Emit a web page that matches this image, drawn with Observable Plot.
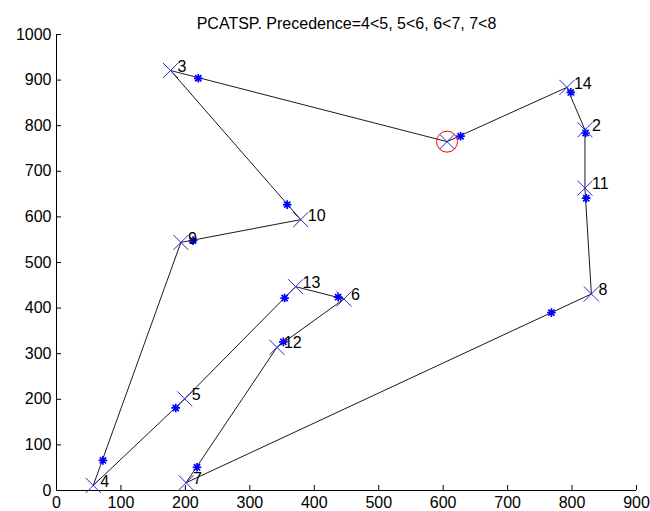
<!DOCTYPE html>
<html><head><meta charset="utf-8">
<script src="https://cdn.jsdelivr.net/npm/d3@7"></script>
<script src="https://cdn.jsdelivr.net/npm/@observablehq/plot@0.6"></script>
<style>html,body{margin:0;padding:0;background:#fff}</style>
</head><body><div id="chart"></div>
<script>
const title = "PCATSP. Precedence=4<5, 5<6, 6<7, 7<8";
// city 1 is the depot (red circle, no label)
const cityIds = [1, 2, 3, 4, 5, 6, 7, 8, 9, 10, 11, 12, 13, 14];
const cityX   = [606, 820, 177, 57, 199, 446, 201, 830, 193, 379, 820, 342, 371, 792];
const cityY   = [765, 791, 921, 11, 201, 420, 17, 431, 544, 594, 663, 314, 447, 884];
const tourOrder = [1, 3, 10, 9, 4, 5, 13, 6, 12, 7, 8, 11, 2, 14, 1];
// star points, one on each tour leg, near the leg's end city
const starX = [220, 358, 212, 72, 185, 354, 437, 352, 218, 768, 822, 821, 798, 627];
const starY = [904, 627, 548, 66, 181, 422, 424, 326, 51, 390, 641, 784, 873, 777];
const xTicks = [0, 100, 200, 300, 400, 500, 600, 700, 800, 900];
const yTicks = [0, 100, 200, 300, 400, 500, 600, 700, 800, 900, 1000];

const cities = cityIds.map((id, i) => ({id, x: cityX[i], y: cityY[i]}));
const byId = new Map(cities.map(c => [c.id, c]));
const tour = tourOrder.map(id => byId.get(id));
const stars = starX.map((x, i) => ({x, y: starY[i]}));
const depot = cities.filter(c => c.id === 1);
const labeled = cities.filter(c => c.id !== 1);

const timesSym = {draw(ctx, size) {
  const r = Math.sqrt(size / Math.PI);
  ctx.moveTo(-r, -r); ctx.lineTo(r, r);
  ctx.moveTo(-r, r); ctx.lineTo(r, -r);
}};
const starSym = {draw(ctx, size) {
  const r = Math.sqrt(size / Math.PI);
  const d = r * 0.72;
  ctx.moveTo(-r, 0); ctx.lineTo(r, 0);
  ctx.moveTo(0, -r); ctx.lineTo(0, r);
  ctx.moveTo(-d, -d); ctx.lineTo(d, d);
  ctx.moveTo(-d, d); ctx.lineTo(d, -d);
}};

const chart = Plot.plot({
  width: 650, height: 511,
  marginLeft: 56, marginRight: 14, marginTop: 34, marginBottom: 21,
  x: {domain: [0, 900]},
  y: {domain: [0, 1000]},
  style: {fontFamily: "'Liberation Sans', Arial, sans-serif", fontSize: "16px", background: "#fff", color: "#000"},
  marks: [
    Plot.axisX({ticks: xTicks, tickSize: -5, tickPadding: 11, label: null, fontSize: 16, tickFormat: d => String(d)}),
    Plot.axisY({ticks: yTicks, tickSize: -5, tickPadding: 10, label: null, fontSize: 16, tickFormat: d => String(d)}),
    Plot.ruleX([0], {stroke: "#000"}),
    Plot.ruleY([0], {stroke: "#000"}),
    Plot.line(tour, {x: "x", y: "y", stroke: "#000", strokeWidth: 0.9}),
    Plot.dot(stars, {x: "x", y: "y", symbol: starSym, r: 4.3, fill: "none", stroke: "#0000ff", strokeWidth: 1.7}),
    Plot.dot(depot, {x: "x", y: "y", r: 10.5, fill: "none", stroke: "#ff0000", strokeWidth: 1}),
    Plot.dot(cities, {x: "x", y: "y", symbol: timesSym, r: 7.5, fill: "none", stroke: "#2a2acc", strokeWidth: 1}),
    Plot.text(labeled, {x: "x", y: "y", text: d => String(d.id), dx: 7, dy: -4, textAnchor: "start", fontSize: 16, fill: "#000"}),
    Plot.text([title], {text: d => d, frameAnchor: "top", dy: -17, fontSize: 16, fill: "#000"})
  ]
});
document.getElementById("chart").append(chart);
</script>
</body></html>
